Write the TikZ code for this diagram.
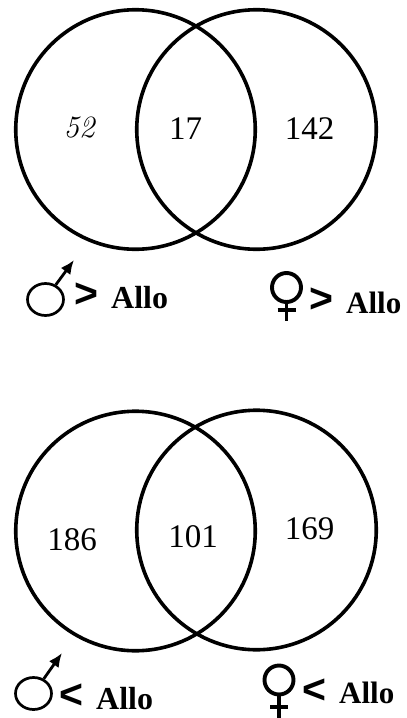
\documentclass[tikz,border=0pt]{standalone}
\usepackage{fontspec}
\newfontfamily\timesfont{Liberation Serif}
\newfontfamily\chevfont{Liberation Sans}
\usepackage{tikz}
\usetikzlibrary{shapes.geometric,arrows.meta}

\begin{document}
\begin{tikzpicture}[
        x=1pt, y=-1pt,
        every node/.style={inner sep=0pt},
        venn/.style={circle, draw, line width=3.6pt, minimum size=239.5pt},
        count/.style={font=\timesfont\fontsize{33}{38}\selectfont},
        allo/.style={anchor=base west, font=\timesfont\bfseries\fontsize{32}{36}\selectfont},
        chev/.style={anchor=base west, font=\chevfont\bfseries\fontsize{41}{44}\selectfont},
        malesym/.style={ellipse, draw, line width=2.7pt, minimum width=36pt, minimum height=32pt},
        femsym/.style={circle, draw, line width=3.9pt, minimum size=29pt},
        malearrow/.style={line width=2.8pt, -{Latex[length=14pt,width=12pt]}},
        femline/.style={line width=3.9pt}
        ]

        \useasboundingbox (0,0) rectangle (407,718);

        % sex-biased genes above allo
        \node[venn] (maleUp) at (135.5,129.5) {};
        \node[venn] (femUp) at (256.5,129.5) {};
        \node[font=\fontsize{31}{36}\selectfont\itshape] (onlyMaleUp) at (79,127.5) {52};
        \node[count] (bothUp) at (185.5,128.5) {17};
        \node[count] (onlyFemUp) at (309.5,128.5) {142};

        \node[malesym] (maleSymUp) at (45.5,299.5) {};
        \coordinate (maleTipUp) at (74,260);
        \draw[malearrow] (maleSymUp.55) -- (maleTipUp);
        \node[chev] (maleSignUp) at (74,307) {>};
        \node[allo] (maleTextUp) at (111,308) {Allo};

        \node[femsym] (femSymUp) at (286.5,287.5) {};
        \coordinate (femEndUp) at (286.5,321);
        \coordinate (femCrossUp) at (286.5,310);
        \draw[femline] (femSymUp.south) -- (femEndUp);
        \draw[femline] ([xshift=-9pt]femCrossUp) -- ([xshift=9pt]femCrossUp);
        \node[chev] (femSignUp) at (309,312) {>};
        \node[allo, font=\timesfont\bfseries\fontsize{31}{36}\selectfont] (femTextUp) at (346,313) {Allo};

        % sex-biased genes below allo
        \node[venn] (maleDown) at (135.5,531) {};
        \node[venn] (femDown) at (256.5,530) {};
        \node[count] (onlyMaleDown) at (72,539.5) {186};
        \node[count] (bothDown) at (193,536.5) {101};
        \node[count] (onlyFemDown) at (309.5,528.5) {169};

        \node[malesym] (maleSymDown) at (33.5,693.5) {};
        \coordinate (maleTipDown) at (62,653);
        \draw[malearrow] (maleSymDown.55) -- (maleTipDown);
        \node[chev] (maleSignDown) at (59,708) {<};
        \node[allo] (maleTextDown) at (96,709) {Allo};

        \node[femsym] (femSymDown) at (279,680) {};
        \coordinate (femEndDown) at (279,718);
        \coordinate (femCrossDown) at (279,707);
        \draw[femline] (femSymDown.south) -- (femEndDown);
        \draw[femline] ([xshift=-9pt]femCrossDown) -- ([xshift=9pt]femCrossDown);
        \node[chev] (femSignDown) at (302,703) {<};
        \node[allo, font=\timesfont\bfseries\fontsize{31}{36}\selectfont] (femTextDown) at (339,703) {Allo};
    \end{tikzpicture}
\end{document}
